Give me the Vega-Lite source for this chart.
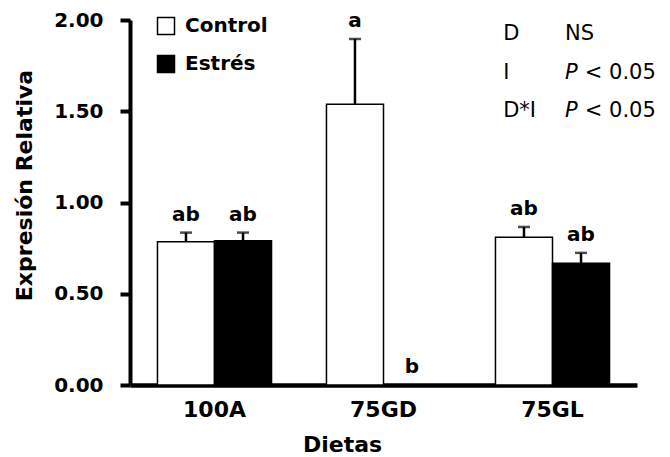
{
  "$schema": "https://vega.github.io/schema/vega-lite/v6.json",
  "width": 507,
  "height": 365,
  "autosize": "none",
  "padding": {"left": 130, "top": 20, "right": 33, "bottom": 72},
  "background": "white",
  "config": {"view": {"stroke": null}, "font": "DejaVu Sans"},
  "datasets": {
    "expresion": [
      {"dieta": "100A", "grupo": "Control", "media": 0.785, "sup": 0.835, "letra": "ab"},
      {"dieta": "100A", "grupo": "Estrés", "media": 0.79, "sup": 0.835, "letra": "ab"},
      {"dieta": "75GD", "grupo": "Control", "media": 1.538, "sup": 1.896, "letra": "a"},
      {"dieta": "75GD", "grupo": "Estrés", "media": 0.0, "sup": 0.0, "letra": "b"},
      {"dieta": "75GL", "grupo": "Control", "media": 0.809, "sup": 0.866, "letra": "ab"},
      {"dieta": "75GL", "grupo": "Estrés", "media": 0.667, "sup": 0.724, "letra": "ab"}
    ],
    "anova": [
      {"efecto": "D", "nota": "NS"},
      {"efecto": "I", "nota": "< 0.05"},
      {"efecto": "D*I", "nota": "< 0.05"}
    ]
  },
  "layer": [
    {
      "data": {"name": "expresion"},
      "encoding": {
        "x": {
          "field": "dieta",
          "type": "nominal",
          "sort": ["100A", "75GD", "75GL"],
          "scale": {"paddingInner": 0.325, "paddingOuter": 0.1625},
          "axis": {
            "title": "Dietas",
            "ticks": false,
            "labelAngle": 0,
            "domainColor": "black",
            "domainWidth": 4.5,
            "labelFont": "DejaVu Sans",
            "labelFontWeight": "bold",
            "labelFontSize": 22,
            "labelColor": "black",
            "labelPadding": 14,
            "titleFont": "DejaVu Sans",
            "titleFontWeight": "bold",
            "titleFontSize": 22,
            "titleColor": "black",
            "titleX": 212,
            "titleY": 59,
            "titleBaseline": "middle",
            "titleAlign": "center"
          }
        },
        "xOffset": {
          "field": "grupo",
          "sort": ["Control", "Estrés"],
          "scale": {"paddingInner": 0, "paddingOuter": 0}
        }
      },
      "layer": [
        {
          "mark": {"type": "bar", "stroke": "black", "strokeWidth": 1.5},
          "encoding": {
            "y": {
              "field": "media",
              "type": "quantitative",
              "scale": {"domain": [0, 2], "nice": false},
              "axis": {
                "values": [0, 0.5, 1, 1.5, 2],
                "format": ".2f",
                "title": "Expresión Relativa",
                "grid": false,
                "domainColor": "black",
                "domainWidth": 4,
                "tickColor": "black",
                "tickWidth": 4,
                "tickSize": 10,
                "labelFont": "DejaVu Sans",
                "labelFontWeight": "bold",
                "labelFontSize": 20,
                "labelColor": "black",
                "labelPadding": 17,
                "titleFont": "DejaVu Sans",
                "titleFontWeight": "bold",
                "titleFontSize": 22,
                "titleColor": "black",
                "titleAngle": -90,
                "titleX": -106,
                "titleY": 165,
                "titleBaseline": "middle",
                "titleAlign": "center"
              }
            },
            "fill": {
              "field": "grupo",
              "type": "nominal",
              "scale": {"domain": ["Control", "Estrés"], "range": ["white", "black"]},
              "legend": {
                "title": null,
                "orient": "none",
                "legendX": 26,
                "legendY": -4,
                "padding": 0,
                "symbolType": "square",
                "symbolSize": 289,
                "symbolStrokeColor": "black",
                "symbolStrokeWidth": 1.5,
                "labelFont": "DejaVu Sans",
                "labelFontWeight": "bold",
                "labelFontSize": 20,
                "labelColor": "black",
                "labelOffset": 9,
                "rowPadding": 14
              }
            }
          }
        },
        {
          "mark": {"type": "rule", "strokeWidth": 2.5, "color": "black"},
          "encoding": {
            "y": {"field": "media", "type": "quantitative"},
            "y2": {"field": "sup"}
          }
        },
        {
          "transform": [{"filter": "datum.sup > datum.media"}],
          "mark": {"type": "tick", "orient": "horizontal", "size": 12, "thickness": 2.5, "color": "black"},
          "encoding": {"y": {"field": "sup", "type": "quantitative"}}
        },
        {
          "mark": {"type": "text", "baseline": "bottom", "dy": -8, "font": "DejaVu Sans", "fontWeight": "bold", "fontSize": 20, "color": "black"},
          "encoding": {
            "y": {"field": "sup", "type": "quantitative"},
            "text": {"field": "letra"}
          }
        }
      ]
    },
    {
      "data": {"name": "anova"},
      "encoding": {
        "y": {
          "field": "efecto",
          "type": "ordinal",
          "sort": ["D", "I", "D*I"],
          "scale": {"range": [14, 91], "padding": 0},
          "axis": null
        }
      },
      "layer": [
        {
          "mark": {"type": "text", "align": "left", "baseline": "middle", "fontSize": 21, "color": "black"},
          "encoding": {
            "x": {"datum": 0.736, "type": "quantitative", "scale": {"domain": [0, 1]}, "axis": null},
            "text": {"field": "efecto"}
          }
        },
        {
          "transform": [{"filter": "datum.nota == 'NS'"}],
          "mark": {"type": "text", "align": "left", "baseline": "middle", "fontSize": 21, "color": "black"},
          "encoding": {
            "x": {"datum": 0.858, "type": "quantitative"},
            "text": {"field": "nota"}
          }
        },
        {
          "transform": [{"filter": "datum.nota != 'NS'"}],
          "mark": {"type": "text", "align": "left", "baseline": "middle", "fontSize": 21, "fontStyle": "italic", "color": "black"},
          "encoding": {
            "x": {"datum": 0.858, "type": "quantitative"},
            "text": {"value": "P"}
          }
        },
        {
          "transform": [{"filter": "datum.nota != 'NS'"}],
          "mark": {"type": "text", "align": "left", "baseline": "middle", "fontSize": 21, "color": "black"},
          "encoding": {
            "x": {"datum": 0.897, "type": "quantitative"},
            "text": {"field": "nota"}
          }
        }
      ]
    }
  ],
  "resolve": {"scale": {"x": "independent", "y": "independent"}}
}
